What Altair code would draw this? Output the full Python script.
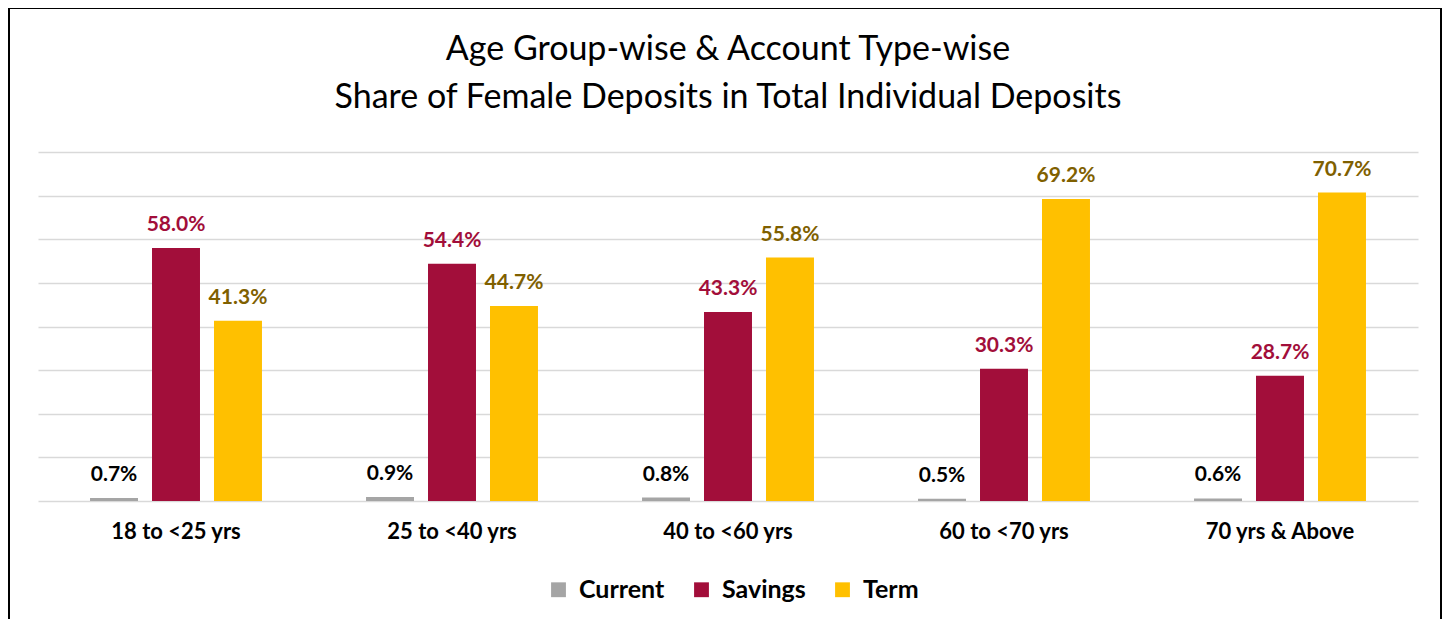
import altair as alt
import pandas as pd

groups = ["18 to  <25 yrs", "25 to  <40 yrs", "40 to  <60 yrs", "60 to  <70 yrs", "70 yrs & Above"]
series = ["Current", "Savings", "Term"]
current = [0.7, 0.9, 0.8, 0.5, 0.6]
savings = [58.0, 54.4, 43.3, 30.3, 28.7]
term = [41.3, 44.7, 55.8, 69.2, 70.7]

bar_colors = ["#A5A5A5", "#A20E3A", "#FFC000"]
label_colors = ["#000000", "#A20E3A", "#7F6000"]

rows = []
for s, vals, lc in zip(series, [current, savings, term], label_colors):
    for g, v in zip(groups, vals):
        rows.append({"group": g, "series": s, "value": v, "label": f"{v:.1f}%", "lc": lc})
df = pd.DataFrame(rows)

FONT = "Lato"

x = alt.X("group:N", sort=groups, title=None,
          scale=alt.Scale(paddingInner=0.377, paddingOuter=0.1885),
          axis=alt.Axis(labelFont=FONT, labelFontSize=22, labelFontWeight="bold",
                        labelColor="#000000", labelAngle=0, ticks=False, domain=False,
                        labelPadding=20, grid=False))
xo = alt.XOffset("series:N", sort=series,
                 scale=alt.Scale(paddingInner=0.226, paddingOuter=0))
y = alt.Y("value:Q", title=None,
          scale=alt.Scale(domain=[0, 80], nice=False),
          axis=alt.Axis(values=[0, 10, 20, 30, 40, 50, 60, 70, 80], labels=False,
                        ticks=False, domain=False, grid=True, gridColor="#D9D9D9",
                        gridWidth=1.5))

base = alt.Chart(df)

bars = base.mark_bar().encode(
    x=x, xOffset=xo, y=y,
    color=alt.Color("series:N", sort=series,
                    scale=alt.Scale(domain=series, range=bar_colors),
                    legend=alt.Legend(title=None, orient="none", direction="horizontal",
                                      legendX=508, legendY=425,
                                      symbolType="square", symbolSize=220,
                                      symbolStrokeWidth=0,
                                      labelFont=FONT, labelFontSize=25,
                                      labelFontWeight="bold", labelColor="#000000",
                                      labelOffset=8, columnPadding=24)),
)

labels = base.mark_text(font=FONT, fontSize=21, fontWeight="bold",
                        baseline="alphabetic", dy=-17).encode(
    x=x, xOffset=xo, y=y,
    text="label:N",
    color=alt.Color("lc:N", scale=None),
)

frame = alt.Chart(pd.DataFrame({"k": [0]})).mark_rect(
    fillOpacity=0, stroke="#000000", strokeWidth=2
).encode(x=alt.value(-29), x2=alt.value(1403), y=alt.value(-144), y2=alt.value(700))

chart = alt.layer(frame, bars, labels).resolve_scale(color="independent").properties(
    width=1380, height=349,
    autosize=alt.AutoSizeParams(type="none"),
    padding={"left": 30, "top": 144, "right": 24, "bottom": 118},
    title=alt.TitleParams(
        text=["Age Group-wise & Account Type-wise",
              "Share of Female Deposits in Total Individual Deposits"],
        font=FONT, fontSize=34, fontWeight="normal", color="#000000",
        anchor="middle", lineHeight=48, offset=-108),
    background="#FFFFFF",
).configure_view(stroke=None)

chart.save("out.html", embed_options={"renderer": "svg", "actions": False})
